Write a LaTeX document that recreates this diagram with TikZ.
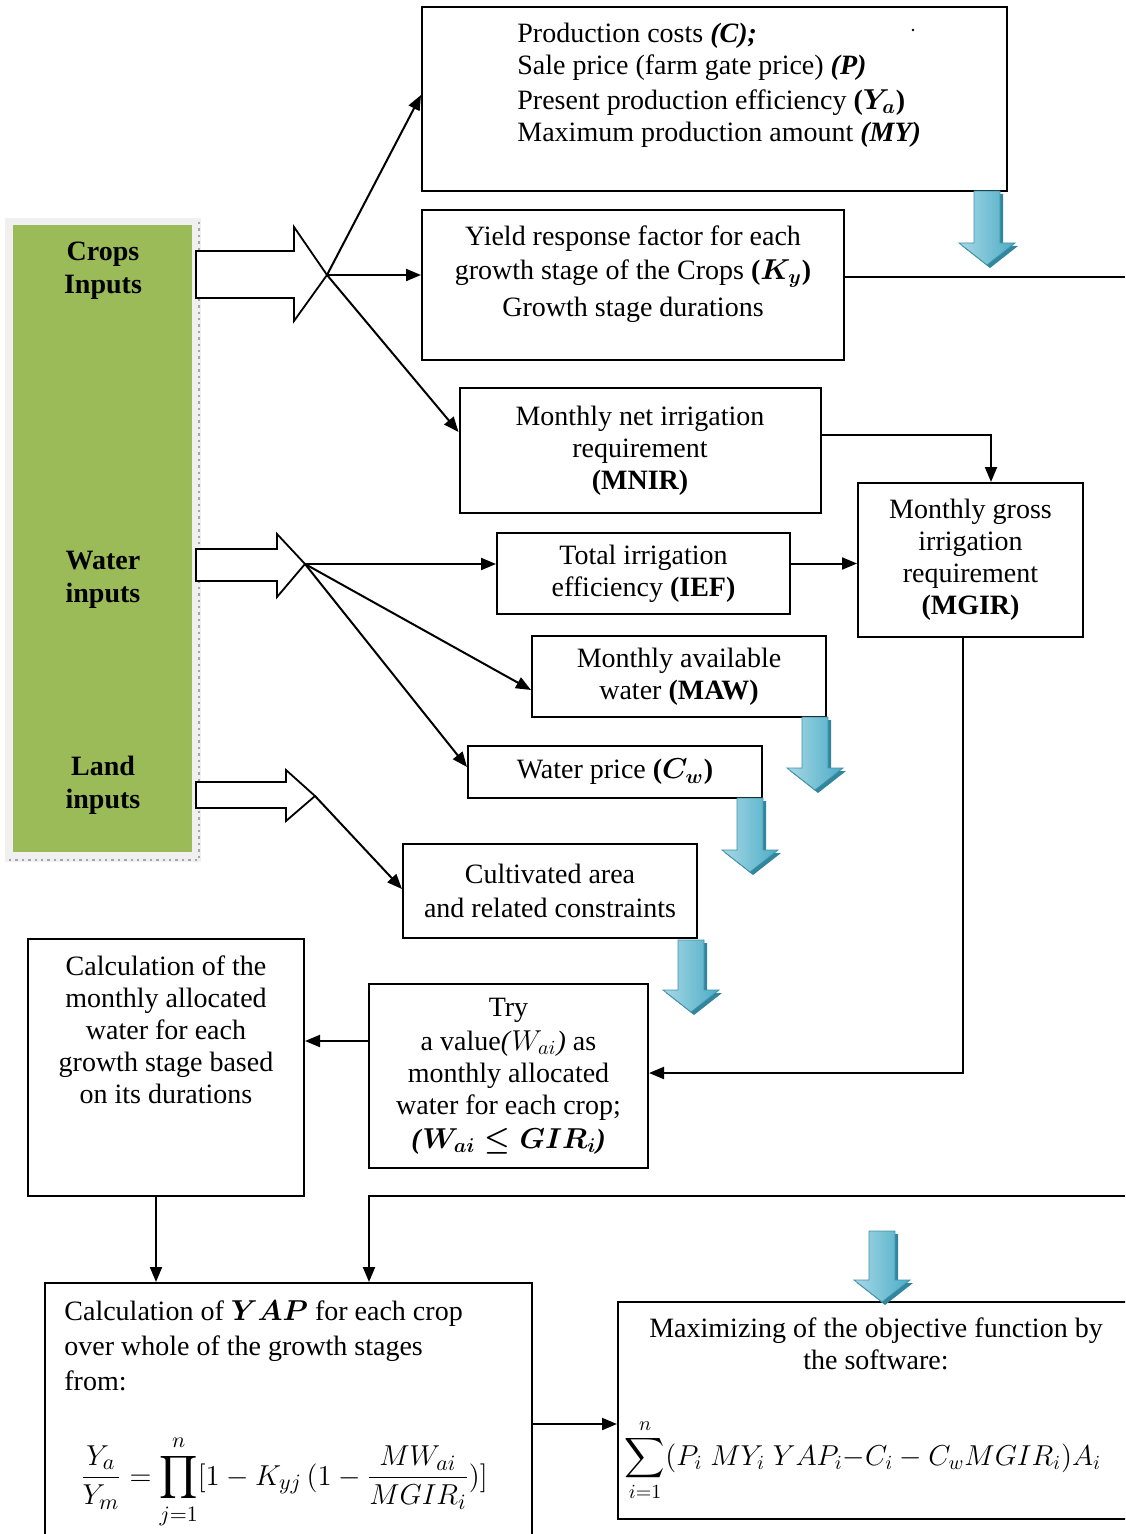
\documentclass[tikz,border=0pt]{standalone}
\usepackage{amsmath,amssymb}
\usepackage{fontspec}
\setmainfont{Liberation Serif}
\usetikzlibrary{arrows.meta,calc}

\definecolor{panelgreen}{HTML}{9BBB59}
\definecolor{bluelight}{HTML}{A8D8E6}
\definecolor{bluemid}{HTML}{4BACC6}
\definecolor{bluedark}{HTML}{31859C}

% down pointing 3d arrow: x, top, tip
\newcommand{\bluedown}[3]{%
  \fill[bluedark, shift={(3,3)}] (#1-13,#2) -- (#1+13,#2) -- (#1+13,#3-22) -- (#1+28,#3-22)
      -- (#1,#3) -- (#1-28,#3-22) -- (#1-13,#3-22) -- cycle;
  \shade[left color=bluelight, right color=bluemid, draw=bluemid!85!black, line width=0.4pt]
      (#1-13,#2) -- (#1+13,#2) -- (#1+13,#3-22) -- (#1+28,#3-22)
      -- (#1,#3) -- (#1-28,#3-22) -- (#1-13,#3-22) -- cycle;
}

\begin{document}
\begin{tikzpicture}[
        x=0.5pt,
        y=-0.5pt,
        font=\fontsize{14}{16}\selectfont,
        blk/.style={draw, line width=1pt, inner sep=0pt, align=center},
        txt/.style={inner sep=0pt, align=center},
        flow/.style={line width=1pt, -{Triangle[length=7.5pt,width=6pt]}},
        plain/.style={line width=1pt},
        hollow/.style={draw, fill=white, line width=0.9pt, line join=miter},
        side/.style={inner sep=0pt, align=center, font=\fontsize{14}{16.5}\selectfont\bfseries}
    ]
        \useasboundingbox (0,0) rectangle (1125,1534);
        \clip (0,0) rectangle (1125,1534);

        % input panel
        \fill[gray!12] (5,218) rectangle (201,862);
        \fill[panelgreen] (13,225) rectangle (192,852);
        \draw[gray!70, dotted, line width=1.2pt] (199,222) -- (199,860) -- (8,860);
        \node[side] (cropslbl) at (103,271) {Crops\\Inputs};
        \node[side] (waterlbl) at (103,580) {Water\\inputs};
        \node[side] (landlbl) at (103,785) {Land\\inputs};

        % hollow block arrows
        \draw[hollow] (196,251) -- (294,251) -- (294,227) -- (327,275) -- (294,321) -- (294,298) -- (196,298) -- cycle;
        \draw[hollow] (196,549) -- (277,549) -- (277,534) -- (305,564) -- (277,597) -- (277,581) -- (196,581) -- cycle;
        \draw[hollow] (196,782) -- (286,782) -- (286,770) -- (315,796) -- (286,821) -- (286,808) -- (196,808) -- cycle;
        \coordinate (croptip) at (327,275);
        \coordinate (watertip) at (305,564);
        \coordinate (landtip) at (315,796);

        % boxes
        \node[blk, minimum width=292.5pt, minimum height=92pt] (costs) at (714.5,99) {};
        \node[txt, anchor=west, align=left] (coststxt) at (517,85)
            {Production costs \textbf{\textit{(C);}}\\
             Sale price (farm gate price) \textbf{\textit{(P)}}\\[1.5pt]
             Present production efficiency \textbf{(}$\boldsymbol{Y_a}$\textbf{)}\\
             Maximum production amount \textbf{\textit{(MY)}}};
        \fill (913,30) circle (0.7pt);

        \node[blk, minimum width=211pt, minimum height=75pt] (ky) at (633,285) {};
        \node[txt] (kytxt) at (633,274)
            {Yield response factor for each\\[1pt]
             growth stage of the Crops \textbf{(}$\boldsymbol{K_y}$\textbf{)}\\[2.5pt]
             Growth stage durations};

        \node[blk, minimum width=180.5pt, minimum height=62.5pt] (mnir) at (640,450.5)
            {Monthly net irrigation\\ requirement\\ \textbf{(MNIR)}};
        \node[blk, minimum width=112.5pt, minimum height=77pt] (mgir) at (970.5,560)
            {Monthly gross\\ irrigation\\ requirement\\ \textbf{(MGIR)}};
        \node[blk, minimum width=146.5pt, minimum height=40.5pt] (ief) at (643.5,573.5)
            {Total irrigation\\ efficiency \textbf{(IEF)}};
        \node[blk, minimum width=147pt, minimum height=40.5pt] (maw) at (679,676.5)
            {Monthly available\\ water \textbf{(MAW)}};
        \node[blk, minimum width=147pt, minimum height=26pt] (cw) at (615,772)
            {Water price \textbf{(}$\boldsymbol{C_w}$\textbf{)}};
        \node[blk, minimum width=147pt, minimum height=47pt] (area) at (550,891)
            {Cultivated area\\[1pt] and related constraints};
        \node[blk, minimum width=139.5pt, minimum height=92pt] (try) at (508.5,1076)
            {Try\\[1pt] a value\textit{(}$W_{ai}$\textit{)} as\\ monthly allocated\\ water for each crop;\\[1pt]
             \textbf{\textit{(}}$\boldsymbol{W_{ai}\le GIR_i}$\textbf{\textit{)}}};

        \node[blk, minimum width=138pt, minimum height=128.5pt] (alloc) at (166,1067.5) {};
        \node[txt, anchor=north] (alloctxt) at (166,955)
            {Calculation of the\\ monthly allocated\\ water for each\\ growth stage based\\ on its durations};

        \node[blk, minimum width=243.5pt, minimum height=141pt] (yap) at (288,1424) {};
        \node[txt, anchor=north west, align=left, font=\fontsize{14}{17.5}\selectfont] (yaptxt) at (64,1300)
            {Calculation of $\boldsymbol{YAP}$ for each crop\\ over whole of the growth stages\\ from:};
        \node[txt, font=\fontsize{15}{18}\selectfont] (yapeq) at (284,1482)
            {$\displaystyle\frac{Y_a}{Y_m}=\prod_{j=1}^{n}[1-K_{yj}\,(1-\frac{MW_{ai}}{MGIR_i})]$};

        \node[blk, minimum width=261pt, minimum height=108.5pt] (obj) at (879,1410.5) {};
        \node[txt] (objtxt) at (876,1344)
            {Maximizing of the objective function by\\ the software:};
        \node[txt, font=\fontsize{14}{17}\selectfont] (objeq) at (863,1460)
            {$\displaystyle\sum_{i=1}^{n}(P_i\;MY_i\;YAP_i{-}C_i-C_wMGIR_i)A_i$};

        % connectors
        \draw[flow] (croptip) -- ([yshift=2pt]costs.west);
        \draw[flow] (croptip) -- (croptip -| ky.west);
        \draw[flow] (croptip) -- ([yshift=9.25pt]mnir.west);
        \coordinate (kyout) at (1125,277);
        \draw[plain] (ky.east |- kyout) -- (kyout);
        \draw[flow] ([yshift=7.75pt]mnir.east) -| ([xshift=10.25pt]mgir.north);
        \draw[flow] (watertip) -- (watertip -| ief.west);
        \draw[flow] (watertip) -- ([yshift=-6.75pt]maw.west);
        \draw[flow] (watertip) -- ([yshift=2.5pt]cw.west);
        \draw[flow] ([yshift=5pt]ief.east) -- ([yshift=5pt]ief.east -| mgir.west);
        \draw[flow] (landtip) -- ([yshift=1pt]area.west);
        \draw[flow] ([xshift=-4pt]mgir.south) |- ([yshift=1.5pt]try.east);
        \draw[flow] ([yshift=17.5pt]try.west) -- ([yshift=17.5pt]try.west -| alloc.east);
        \draw[flow] ([xshift=-5pt]alloc.south) -- ([xshift=-5pt]alloc.south |- yap.north);
        \coordinate (loopin) at (1125,1196);
        \draw[flow] (loopin) -| ([xshift=40.5pt]yap.north);
        \draw[flow] (yap.east) -- (yap.east -| obj.west);

        % 3d arrows
        \bluedown{987}{191}{265}
        \bluedown{815}{717}{790}
        \bluedown{750}{798}{872}
        \bluedown{691}{940}{1012}
        \bluedown{882}{1231}{1302}
    \end{tikzpicture}
\end{document}
